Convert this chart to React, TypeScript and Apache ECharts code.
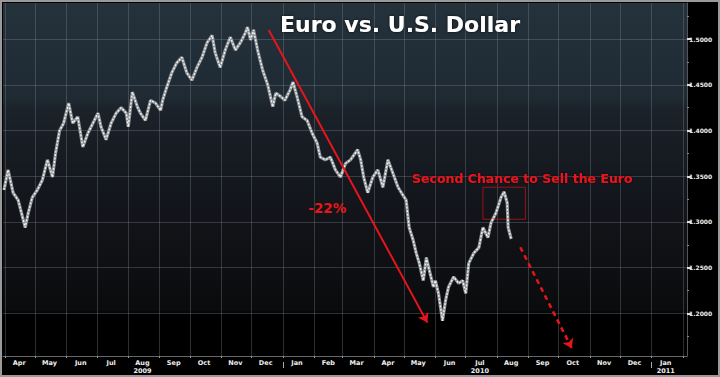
import React, { useEffect, useRef } from 'react';
import * as echarts from 'echarts';

// ---- Data (EUR/USD, Mar 2009 – Aug 2010) ----
const DATES = [
  '2009-03-31', '2009-04-04', '2009-04-09', '2009-04-14', '2009-04-21', '2009-04-24', '2009-04-28',
  '2009-05-03', '2009-05-08', '2009-05-13', '2009-05-18', '2009-05-21', '2009-05-25', '2009-05-29',
  '2009-06-03', '2009-06-07', '2009-06-12', '2009-06-17', '2009-06-22', '2009-06-27',
  '2009-07-02', '2009-07-05', '2009-07-10', '2009-07-15', '2009-07-20', '2009-07-25', '2009-07-30',
  '2009-08-01', '2009-08-05', '2009-08-10', '2009-08-13', '2009-08-18', '2009-08-23', '2009-08-28',
  '2009-09-02', '2009-09-04', '2009-09-08', '2009-09-13', '2009-09-18', '2009-09-23', '2009-09-28',
  '2009-10-03', '2009-10-08', '2009-10-13', '2009-10-18', '2009-10-23', '2009-10-26', '2009-10-31',
  '2009-11-05', '2009-11-10', '2009-11-15', '2009-11-20', '2009-11-25', '2009-11-27', '2009-11-30',
  '2009-12-03', '2009-12-07', '2009-12-12', '2009-12-17', '2009-12-22', '2009-12-25', '2009-12-30',
  '2010-01-03', '2010-01-08', '2010-01-11', '2010-01-15', '2010-01-20', '2010-01-25', '2010-01-30',
  '2010-02-04', '2010-02-07', '2010-02-12', '2010-02-17', '2010-02-22', '2010-02-27',
  '2010-03-04', '2010-03-09', '2010-03-16', '2010-03-19', '2010-03-22', '2010-03-26', '2010-03-31',
  '2010-04-05', '2010-04-10', '2010-04-15', '2010-04-20', '2010-04-25', '2010-04-30',
  '2010-05-03', '2010-05-06', '2010-05-10', '2010-05-13', '2010-05-16', '2010-05-20', '2010-05-23',
  '2010-05-26', '2010-05-30', '2010-06-01', '2010-06-04', '2010-06-08', '2010-06-11', '2010-06-14',
  '2010-06-19', '2010-06-24', '2010-06-28', '2010-07-01', '2010-07-04', '2010-07-09', '2010-07-14',
  '2010-07-18', '2010-07-23', '2010-07-26', '2010-07-31', '2010-08-05', '2010-08-08', '2010-08-11',
  '2010-08-12', '2010-08-15',
];
const RATES = [
  1.335, 1.357, 1.332, 1.324, 1.294, 1.310, 1.327,
  1.335, 1.346, 1.368, 1.349, 1.375, 1.400, 1.408,
  1.430, 1.408, 1.415, 1.382, 1.397, 1.408,
  1.419, 1.404, 1.390, 1.408, 1.419, 1.425, 1.419,
  1.404, 1.442, 1.426, 1.419, 1.411, 1.433, 1.430,
  1.422, 1.433, 1.447, 1.463, 1.474, 1.480, 1.463,
  1.455, 1.469, 1.480, 1.496, 1.504, 1.485, 1.469,
  1.488, 1.502, 1.488, 1.496, 1.507, 1.513, 1.499,
  1.510, 1.488, 1.466, 1.450, 1.426, 1.441, 1.437,
  1.433, 1.444, 1.453, 1.437, 1.415, 1.411, 1.397,
  1.386, 1.371, 1.368, 1.371, 1.357, 1.349,
  1.364, 1.368, 1.379, 1.368, 1.349, 1.332, 1.349,
  1.357, 1.338, 1.368, 1.353, 1.338, 1.329,
  1.324, 1.294, 1.280, 1.266, 1.255, 1.236, 1.261,
  1.247, 1.229, 1.236, 1.222, 1.192, 1.214, 1.229,
  1.240, 1.233, 1.236, 1.222, 1.255, 1.266, 1.272,
  1.294, 1.283, 1.299, 1.310, 1.327, 1.333, 1.321,
  1.294, 1.2814,
];
const LAST_RATE = 1.2814;

// ---- Axis ticks / labels ----
const X_RANGE = ['2009-03-30', '2011-02-05'];
const Y_RANGE = [1.1535, 1.5394];
const Y_TICKS = [1.2, 1.25, 1.3, 1.35, 1.4, 1.45, 1.5];
const Y_MINOR_TICKS = [1.175, 1.225, 1.275, 1.325, 1.375, 1.425, 1.475, 1.525];
const MONTH_STARTS = [
  '2009-04-01', '2009-05-01', '2009-06-01', '2009-07-01', '2009-08-01', '2009-09-01',
  '2009-10-01', '2009-11-01', '2009-12-01', '2010-01-01', '2010-02-01', '2010-03-01',
  '2010-04-01', '2010-05-01', '2010-06-01', '2010-07-01', '2010-08-01', '2010-09-01',
  '2010-10-01', '2010-11-01', '2010-12-01', '2011-01-01', '2011-02-01',
];
const MONTH_LABEL_AT = [
  '2009-04-15', '2009-05-15', '2009-06-15', '2009-07-15', '2009-08-15', '2009-09-15',
  '2009-10-15', '2009-11-15', '2009-12-15', '2010-01-15', '2010-02-15', '2010-03-15',
  '2010-04-15', '2010-05-15', '2010-06-15', '2010-07-15', '2010-08-15', '2010-09-15',
  '2010-10-15', '2010-11-15', '2010-12-15', '2011-01-15',
];
const MONTH_NAMES = ['Jan', 'Feb', 'Mar', 'Apr', 'May', 'Jun', 'Jul', 'Aug', 'Sep', 'Oct', 'Nov', 'Dec'];
const YEAR_LABEL_AT = ['2009-08-15', '2010-07-15', '2011-01-15'];
const YEAR_LABEL_TEXT = ['2009', '2010', '2011'];
const YEAR_BREAKS = ['2010-01-01', '2011-01-01'];

// ---- Annotations (data coordinates) ----
const TITLE = 'Euro vs. U.S. Dollar';
const TREND_ARROW: [string, number][] = [['2009-12-18', 1.5098], ['2010-05-24', 1.19]];
const FORECAST_ARROW: [string, number][] = [['2010-08-24', 1.2724], ['2010-10-14', 1.162]];
const SELL_BOX: [string, number][] = [['2010-07-18', 1.338], ['2010-08-29', 1.303]];
const DROP_LABEL_AT: [string, number] = ['2010-02-14', 1.315];
const DROP_LABEL_TEXT = '-22%';
const SELL_LABEL_AT: [string, number] = ['2010-08-26', 1.348];
const SELL_LABEL_TEXT = 'Second Chance to Sell the Euro';

const ts = (s: string) => {
  const [y, m, d] = s.split('-').map(Number);
  return new Date(y, m - 1, d).getTime();
};

const RED = '#e8141b';
const FONT = 'DejaVu Sans';
const GRID_COLOR = 'rgba(140,152,162,0.3)';

export default function App() {
  const ref = useRef<HTMLDivElement>(null);

  useEffect(() => {
    if (!ref.current) return;
    const chart = echarts.init(ref.current, undefined, { renderer: 'svg' });

    const yearKeys = YEAR_LABEL_AT.map(ts);
    const monthLabelFormatter = (v: number) => {
      const d = new Date(v);
      const name = MONTH_NAMES[d.getMonth()];
      const idx = yearKeys.findIndex((k) => {
        const kd = new Date(k);
        return kd.getFullYear() === d.getFullYear() && kd.getMonth() === d.getMonth();
      });
      return idx >= 0 ? name + '\n' + YEAR_LABEL_TEXT[idx] : name;
    };

    const seriesData = DATES.map((d, i) => [ts(d), RATES[i]]);

    const option: any = {
      animation: false,
      backgroundColor: '#000',
      title: {
        text: TITLE,
        left: 273,
        top: 6,
        textStyle: {
          color: '#ffffff',
          fontSize: 22,
          fontWeight: 'bold',
          fontFamily: FONT,
          textShadowColor: 'rgba(0,0,0,0.8)',
          textShadowBlur: 3,
        },
      },
      grid: {
        left: 1,
        right: 31,
        top: 1,
        bottom: 19,
        show: true,
        borderWidth: 0,
        backgroundColor: {
          type: 'linear', x: 0, y: 0, x2: 0, y2: 1,
          colorStops: [
            { offset: 0, color: '#24323c' },
            { offset: 0.27, color: '#1f2a33' },
            { offset: 0.3, color: '#1b222a' },
            { offset: 0.45, color: '#161a21' },
            { offset: 0.6, color: '#121419' },
            { offset: 0.73, color: '#0e1013' },
            { offset: 0.87, color: '#0a0b0d' },
            { offset: 0.885, color: '#000000' },
            { offset: 1, color: '#000000' },
          ],
        },
      },
      xAxis: [
        {
          type: 'value',
          min: ts(X_RANGE[0]),
          max: ts(X_RANGE[1]),
          axisLine: { show: true, onZero: false, lineStyle: { color: '#666', width: 1 } },
          axisTick: { show: true, length: 2, customValues: MONTH_STARTS.map(ts), lineStyle: { color: '#999' } },
          splitLine: { show: true, lineStyle: { color: GRID_COLOR, width: 1 } },
          axisLabel: {
            show: true,
            customValues: MONTH_LABEL_AT.map(ts),
            color: '#f0f0f0',
            fontSize: 6.5,
            fontWeight: 'bold',
            fontFamily: FONT,
            lineHeight: 8,
            margin: 3,
            hideOverlap: false,
            formatter: monthLabelFormatter,
          },
        },
        {
          type: 'value',
          min: ts(X_RANGE[0]),
          max: ts(X_RANGE[1]),
          position: 'bottom',
          offset: 6,
          axisLine: { show: false, onZero: false },
          axisTick: { show: true, length: 6, customValues: YEAR_BREAKS.map(ts), lineStyle: { color: '#aaa' } },
          axisLabel: { show: false },
          splitLine: { show: false },
        },
      ],
      yAxis: [
        {
          type: 'value',
          position: 'right',
          min: Y_RANGE[0],
          max: Y_RANGE[1],
          axisLine: { show: true, lineStyle: { color: '#555' } },
          axisTick: { show: true, length: 4, customValues: Y_TICKS, lineStyle: { color: '#e0e0e0', width: 2 } },
          splitLine: { show: true, lineStyle: { color: GRID_COLOR, width: 1 } },
          axisLabel: {
            show: true,
            customValues: Y_TICKS,
            color: '#f0f0f0',
            fontSize: 6,
            fontWeight: 'bold',
            fontFamily: FONT,
            margin: 2,
            formatter: (v: number) => v.toFixed(4),
          },
        },
        {
          type: 'value',
          position: 'right',
          min: Y_RANGE[0],
          max: Y_RANGE[1],
          axisLine: { show: false },
          axisTick: { show: true, length: 2, customValues: Y_MINOR_TICKS, lineStyle: { color: '#888' } },
          axisLabel: { show: false },
          splitLine: { show: false },
        },
      ],
      series: [
        {
          // gray body of the daily-range trace
          type: 'line',
          data: seriesData,
          showSymbol: false,
          symbol: 'none',
          silent: true,
          z: 2,
          lineStyle: { color: '#8e9296', width: 3.2 },
        },
        {
          type: 'line',
          data: seriesData,
          showSymbol: false,
          symbol: 'none',
          z: 3,
          lineStyle: {
            color: '#f2f2f2',
            width: 1.4,
            type: [2, 1.5],
          },
          markArea: {
            silent: true,
            data: [[
              { coord: [ts(SELL_BOX[0][0]), SELL_BOX[0][1]], itemStyle: { color: 'rgba(0,0,0,0)', borderColor: '#9c1414', borderWidth: 1 } },
              { coord: [ts(SELL_BOX[1][0]), SELL_BOX[1][1]] },
            ]],
          },
          markLine: {
            silent: true,
            symbol: ['none', 'arrow'],
            symbolSize: 9,
            label: { show: false },
            data: [
              [
                { coord: [ts(TREND_ARROW[0][0]), TREND_ARROW[0][1]], lineStyle: { color: RED, width: 2, type: 'solid' } },
                { coord: [ts(TREND_ARROW[1][0]), TREND_ARROW[1][1]] },
              ],
              [
                { coord: [ts(FORECAST_ARROW[0][0]), FORECAST_ARROW[0][1]], lineStyle: { color: RED, width: 2.5, type: [5, 4] } },
                { coord: [ts(FORECAST_ARROW[1][0]), FORECAST_ARROW[1][1]] },
              ],
              {
                yAxis: LAST_RATE,
                symbol: ['none', 'none'],
                lineStyle: { opacity: 0 },
                label: {
                  show: true,
                  position: 'end',
                  distance: 1,
                  formatter: LAST_RATE.toFixed(4),
                  backgroundColor: '#f4f4f4',
                  color: '#111',
                  fontSize: 6,
                  fontWeight: 'bold',
                  fontFamily: FONT,
                  padding: [1, 2, 1, 2],
                  borderRadius: 1,
                },
              },
            ],
          },
          markPoint: {
            silent: true,
            symbol: 'rect',
            symbolSize: 1,
            itemStyle: { color: 'rgba(0,0,0,0)' },
            data: [
              {
                coord: [ts(DROP_LABEL_AT[0]), DROP_LABEL_AT[1]],
                label: {
                  show: true, position: 'inside', formatter: DROP_LABEL_TEXT,
                  color: RED, fontSize: 13.5, fontWeight: 'bold', fontFamily: FONT,
                },
              },
              {
                coord: [ts(SELL_LABEL_AT[0]), SELL_LABEL_AT[1]],
                label: {
                  show: true, position: 'inside', formatter: SELL_LABEL_TEXT,
                  color: RED, fontSize: 12.5, fontWeight: 'bold', fontFamily: FONT,
                  textShadowColor: 'rgba(0,0,0,0.8)', textShadowBlur: 2,
                },
              },
            ],
          },
        },
      ],
    };

    chart.setOption(option);
    return () => chart.dispose();
  }, []);

  return (
    <div
      style={{
        position: 'fixed', left: 0, top: 0, width: 720, height: 377,
        boxSizing: 'border-box', border: '2px solid #9a9a9a', background: '#000',
      }}
    >
      <div ref={ref} style={{ width: '100%', height: '100%' }} />
    </div>
  );
}
